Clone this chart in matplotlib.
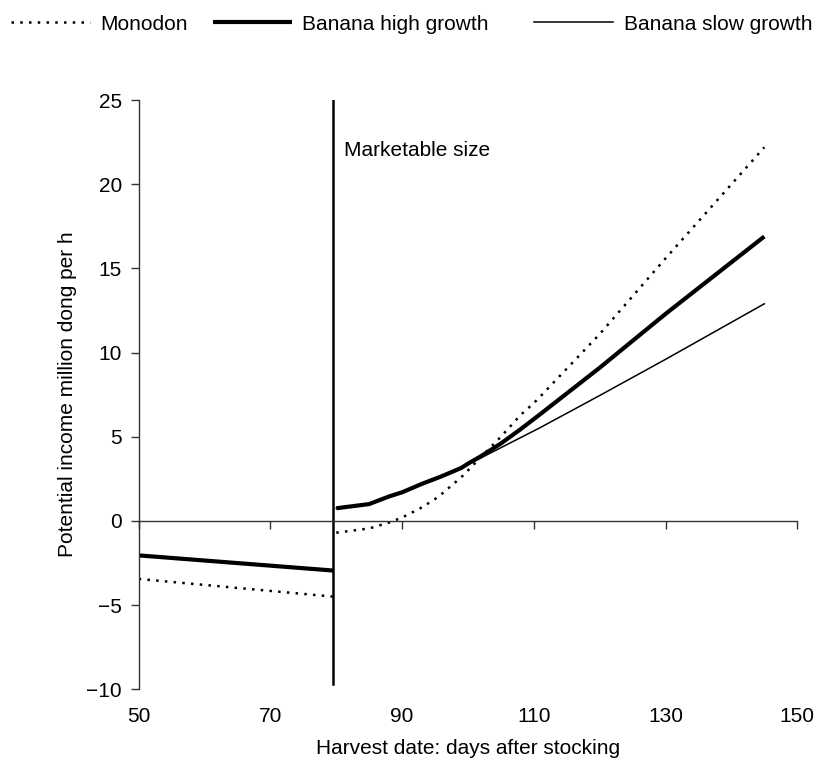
import matplotlib
matplotlib.use("Agg")
import matplotlib.pyplot as plt
from matplotlib.lines import Line2D

plt.rcParams['font.family'] = ['Liberation Sans', 'DejaVu Sans']
plt.rcParams['font.size'] = 15

# values
marketable_day = 79.5

days_before = [50, 79.5]
monodon_before = [-3.45, -4.5]
high_before = [-2.05, -2.95]

days_after = [80, 85, 88, 90, 93, 95, 96, 99, 100, 102, 105, 108, 110, 111, 120, 130, 145]
monodon_after = [-0.7, -0.45, -0.1, 0.2, 0.8, 1.3, 1.6, 2.6, 3.0, 3.8, 5.0, 6.3, 7.0, 7.4, 11.1, 15.6, 22.2]
high_after = [0.75, 1.0, 1.45, 1.7, 2.2, 2.5, 2.65, 3.15, 3.4, 3.85, 4.6, 5.45, 6.05, 6.35, 9.1, 12.3, 16.9]
slow_after = [0.75, 1.0, 1.45, 1.7, 2.2, 2.5, 2.65, 3.15, 3.35, 3.75, 4.35, 4.95, 5.35, 5.55, 7.45, 9.6, 12.9]

x_ticks = [50, 70, 90, 110, 130, 150]
y_ticks = [-10, -5, 0, 5, 10, 15, 20, 25]

fig = plt.figure(figsize=(8.16, 7.59), dpi=100)
ax = fig.add_axes([0.170, 0.092, 0.807, 0.776])

dot = dict(color='black', lw=1.8, linestyle=(0, (1, 2.5)))
thick = dict(color='black', lw=3.0, solid_capstyle='butt')
thin = dict(color='black', lw=1.1)

ax.plot(days_before, monodon_before, **dot)
ax.plot(days_after, monodon_after, **dot)
ax.plot(days_before, high_before, **thick)
ax.plot(days_after, high_after, **thick)
ax.plot(days_after, slow_after, **thin)

# marketable size marker
ax.plot([marketable_day, marketable_day], [-9.7, 25], color='black', lw=1.8)
ax.text(81.2, 22.0, 'Marketable size', va='center', ha='left')

ax.set_xlim(50, 150)
ax.set_ylim(-10, 25)
ax.set_xticks(x_ticks)
ax.set_yticks(y_ticks)
ax.set_yticklabels([str(v).replace('-', '\u2212') for v in y_ticks])

for s in ['top', 'right']:
    ax.spines[s].set_visible(False)
ax.spines['bottom'].set_position(('data', 0))
for s in ['bottom', 'left']:
    ax.spines[s].set_color('#333333')
    ax.spines[s].set_linewidth(1.0)
ax.tick_params(axis='x', direction='out', length=6, width=1.0, color='#333333', labelbottom=False)
ax.tick_params(axis='y', direction='out', length=6, width=1.0, color='#333333', pad=6)
ax.set_ylabel('Potential income million dong per h')
ax.yaxis.set_label_coords(-0.094, 0.5)

# tick labels shown below the plot area
sec = ax.secondary_xaxis(0.0)
sec.set_xticks(x_ticks)
sec.spines['bottom'].set_visible(False)
sec.tick_params(length=0, pad=13)
sec.set_xlabel('Harvest date: days after stocking', labelpad=9)

leg_kw = dict(frameon=False, handlelength=3.8, handletextpad=0.5, borderaxespad=0.3)
fig.legend([Line2D([], [], **dot), Line2D([], [], **thick)],
           ['Monodon', 'Banana high growth'], loc='upper left',
           bbox_to_anchor=(-0.005, 1.0), ncol=2, columnspacing=1.2, **leg_kw)
fig.legend([Line2D([], [], **thin)], ['Banana slow growth'], loc='upper right',
           bbox_to_anchor=(1.013, 1.0), **leg_kw)

fig.savefig('out.png', dpi=100)
